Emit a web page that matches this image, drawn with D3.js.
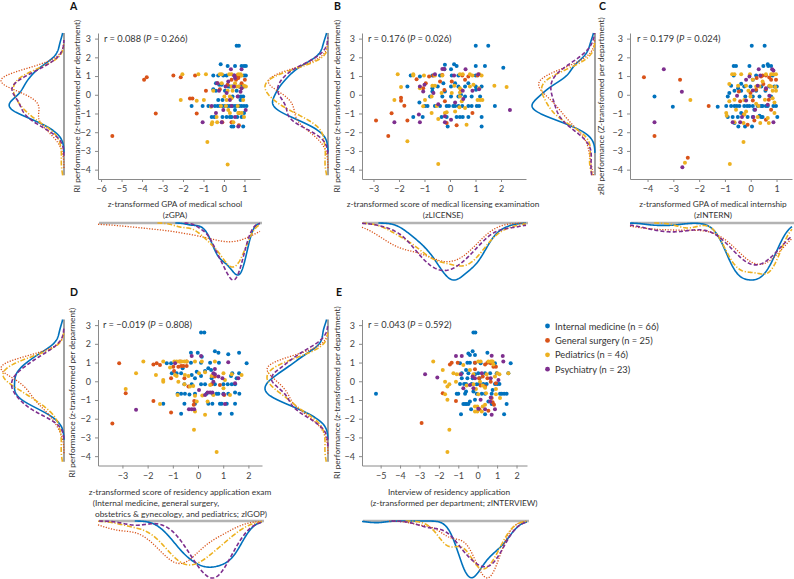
<!DOCTYPE html>
<html><head><meta charset="utf-8">
<script src="https://cdn.jsdelivr.net/npm/d3@7"></script>
<style>
body{margin:0;background:#fff}
svg{display:block}
text{font-family:Lato,"Open Sans",sans-serif}
</style>
</head><body>
<svg id="chart" width="794" height="579"></svg>
<script>
// ---------- categories / legend ----------
const groups = ["Internal medicine","General surgery","Pediatrics","Psychiatry"];
const groupN = [66,25,46,23];
const groupColors = ["#0072BD","#D95319","#EDB120","#7E2F8E"];
const densityDash = [null,"1.2,1.5","5,1.8,1.2,1.8","4,2.2"];
const yTicks = [-4,-3,-2,-1,0,1,2,3];

// ---------- panel A: zGPA ----------
const zGPA_IM = [[0.62,2.62],[0.73,2.62],[-0.16,1.63],[0.18,1.54],[0.54,1.54],[0.98,1.54],[1.07,1.54],[-0.28,1.03],[-0.03,1.03],[0.13,1.03],[0.5,1.03],[0.98,1.03],[1.07,1.03],[-0.39,0.62],[-0.23,0.53],[0.21,0.44],[0.75,0.44],[0.86,0.44],[0.98,0.44],[0.42,0.44],[-0.39,0.21],[-0.52,0.3],[0.42,-0.09],[0.83,-0.09],[0.94,-0.09],[-0.07,-0.28],[0.81,-0.28],[-1.58,-0.6],[-1.04,-0.6],[-0.44,-0.6],[-0.31,-0.6],[-0.2,-0.6],[-0.07,-0.6],[0.05,-0.6],[0.18,-0.6],[0.29,-0.6],[0.42,-0.6],[0.54,-0.6],[0.65,-0.6],[0.86,-0.6],[0.98,-0.6],[0.54,-0.82],[0.98,-0.98],[-0.6,-1.19],[-0.47,-1.19],[-0.07,-1.19],[0.29,-1.19],[0.37,-1.19],[0.86,-1.19],[0.65,-1.19],[0.37,-1.7],[0.46,-1.7],[0.94,-1.7],[0.7,1.03],[0.86,1.54],[-0.11,0.53],[0.62,0.21],[0.05,0.21],[0.75,-0.6],[-0.28,-0.28],[0.13,-1.19],[1.1,-0.6],[-0.76,-0.6],[0.29,0.44],[0.7,-0.09],[-0.52,1.03]];
const zGPA_GS = [[-5.45,-2.2],[-3.9,0.8],[-3.77,0.94],[-3.33,-1.0],[-2.47,1.03],[-2.11,0.94],[-1.66,-0.2],[-1.54,-0.2],[-1.41,1.03],[-1.33,-1.0],[-0.88,0.21],[0.62,1.03],[0.81,1.03],[0.37,0.8],[0.59,0.8],[0.7,0.89],[-0.2,0.3],[0.73,-0.98],[-0.08,-1.47],[0.37,-1.47],[0.73,-1.63],[0.18,0.53],[1.02,0.8],[-0.31,0.62],[0.86,0.62]];
const zGPA_PED = [[-2.03,1.1],[-2.11,-0.28],[-1.25,1.1],[-1.33,-0.32],[-0.98,-0.28],[-0.88,1.1],[-0.81,-2.52],[0.18,-3.72],[-0.6,-1.58],[-0.57,-1.47],[-0.63,-0.64],[-0.2,1.1],[-0.11,1.1],[0.26,1.1],[0.37,1.1],[0.7,1.1],[0.81,1.1],[0.37,0.44],[0.5,0.44],[0.62,0.44],[0.98,0.48],[1.07,0.44],[0.86,0.35],[0.73,0.44],[0.18,0.21],[0.42,0.21],[0.29,-0.09],[0.37,-0.18],[0.13,-0.28],[-0.15,-0.6],[0.1,-0.6],[0.67,-0.6],[0.29,-0.98],[0.7,-0.98],[0.86,-0.98],[-0.36,-1.19],[-0.33,-1.47],[0.86,1.03],[-0.11,0.62],[0.02,-0.09],[0.98,-1.19],[0.54,0.62],[0.21,-0.82],[-0.52,0.21],[0.94,-0.28],[0.46,-1.47]];
const zGPA_PSY = [[-1.04,-1.47],[0.34,1.37],[0.5,1.03],[0.54,0.89],[-0.33,0.62],[0.08,0.44],[0.49,0.44],[0.86,0.35],[-0.24,0.21],[0.29,-0.28],[1.06,-0.82],[0.54,-1.19],[-0.11,-1.47],[-0.6,-0.6],[0.81,0.16],[0.13,0.09],[0.67,-0.09],[-0.03,-0.82],[0.7,-1.7],[0.37,-0.6],[-0.39,-0.98],[0.86,1.37],[0.21,0.71]];

// ---------- panel B: zLICENSE ----------
const zLIC_IM = [[1.01,2.62],[1.5,2.62],[-0.2,1.6],[0.16,1.63],[0.26,1.54],[1.01,1.54],[1.37,1.54],[2.09,1.45],[-0.22,1.37],[0.04,1.37],[-1.54,1.03],[-1.18,0.97],[-0.69,1.03],[-0.39,1.03],[0.07,1.03],[0.33,1.03],[1.01,1.03],[-1.67,0.44],[-0.69,0.35],[-0.26,0.62],[0.04,0.44],[0.33,0.44],[0.59,0.44],[1.24,0.44],[1.01,0.44],[-1.2,-0.41],[-0.69,0.18],[-0.2,0.18],[-0.3,-0.09],[0.04,-0.09],[0.33,-0.09],[0.43,0],[0.85,-0.09],[-0.98,-0.6],[-0.88,-0.6],[-0.59,-0.6],[-0.13,-0.6],[-0.04,-0.6],[0.13,-0.6],[0.33,-0.6],[0.48,-0.6],[0.72,-0.6],[0.85,-0.6],[1.05,-0.6],[1.14,-0.6],[1.76,-0.6],[-1.44,-1.19],[-1.07,-1.19],[-0.33,-1.19],[-0.13,-1.19],[0.26,-1.19],[0.39,-1.19],[0.5,-1.19],[1.24,-1.19],[-0.09,-1.7],[1.24,-1.7],[1.02,0.27],[0.72,0.62],[-0.48,0.44],[0.2,0.62],[0.59,-0.09],[-0.39,-0.6],[0.2,-0.6],[0.72,-1.19],[-0.78,-0.09],[1.18,-0.09]];
const zLIC_GS = [[-2.9,-1.38],[-2.42,-2.2],[-2.29,-0.99],[-1.92,-0.16],[-1.92,-0.32],[-1.79,-0.59],[-1.67,-1.38],[-1.31,0.83],[-0.82,0.97],[-0.95,0.62],[-1.05,0.35],[-0.65,1.03],[-0.39,0.71],[-0.22,0.25],[-0.2,-0.35],[-0.3,1.06],[0.26,-1.63],[0.48,1.03],[0.59,0.8],[0.72,0.97],[0.88,-0.98],[1.08,1.03],[-0.13,-1.51],[0.43,0.27],[0.07,0.71]];
const zLIC_PED = [[-2.05,1.1],[-1.92,0.41],[-2.18,-0.28],[-1.67,-2.48],[-0.46,-3.7],[-1.44,1.1],[-1.44,1.03],[-1.02,1.03],[-0.69,0.48],[-0.59,0.48],[-0.72,-0.09],[-0.98,-0.28],[-1.05,-0.62],[-0.52,-0.6],[-0.72,-0.98],[-0.13,-0.94],[-0.46,-1.29],[-0.3,1.03],[0.39,1.1],[0.5,1.1],[0.78,1.1],[1.15,1.1],[1.24,1.03],[0.17,0.48],[0.39,0.35],[0.78,0.44],[1.14,0.35],[1.74,0.48],[2.22,0.41],[0.39,0.12],[0.39,-0.09],[1.08,-0.28],[1.18,-0.28],[1.27,-0.28],[0.37,-0.67],[0.59,-0.71],[0.65,-1.6],[-0.2,-0.98],[0.46,-0.35],[0.92,0.53],[0.07,0.09],[-0.33,0.09],[-1.18,0.35],[0.88,1.03],[0.2,-0.89],[-0.59,1.03]];
const zLIC_PSY = [[-2.18,-1.47],[-1.18,-1.47],[-1.22,-1.06],[-1.05,0.18],[-1.18,0.44],[-0.59,1.1],[-0.3,1.38],[-0.22,1.38],[-0.46,-0.51],[-0.2,-1.47],[-0.2,-1.15],[0.04,-1.33],[0.2,-0.41],[0.5,0.21],[0.52,-0.23],[0.88,0.21],[1.14,0.3],[0.61,1.37],[1.11,1.1],[2.35,-0.82],[0.16,1.03],[-0.65,0.09],[-1.0,0.53]];

// ---------- panel C: zINTERN ----------
const zINT_IM = [[-3.73,-0.09],[-3.02,-0.64],[-1.28,-0.64],[0.04,2.62],[0.54,2.62],[-0.66,1.54],[-0.57,1.54],[-0.05,1.54],[0.66,1.63],[0.68,1.54],[-0.66,1.03],[0.21,1.03],[0.85,1.03],[-0.37,0.59],[-0.76,0.48],[-0.49,0.35],[-0.01,0.44],[0.41,0.44],[0.92,0.44],[1.01,0.44],[-0.89,-0.09],[-0.63,0.21],[-0.37,0.21],[-0.21,-0.09],[0.08,-0.09],[0.34,-0.09],[0.57,0.21],[-0.95,-0.6],[-0.76,-0.6],[-0.54,-0.6],[-0.44,-0.6],[-0.25,-0.6],[-0.14,-0.6],[-0.05,-0.6],[0.08,-0.6],[0.27,-0.6],[0.4,-0.6],[0.59,-0.6],[0.88,-0.6],[0.98,-0.6],[-0.89,-1.19],[-0.5,-1.19],[-0.12,-1.19],[0.4,-1.19],[0.46,-1.19],[1.03,-1.19],[-0.48,-1.7],[-0.22,-1.7],[0.05,-1.7],[-0.63,-1.51],[0.34,-1.12],[0.14,-0.8],[0.49,1.54],[0.79,1.54],[0.08,0.8],[-0.25,0.44],[0.72,0.44],[-0.83,0.09],[0.21,0.21],[0.79,-0.09],[-0.63,-0.6],[0.46,-0.6],[-0.7,-1.19],[0.08,-1.19],[0.66,-0.6],[-0.37,-0.98]];
const zINT_GS = [[-4.14,0.94],[-3.73,-2.2],[-2.74,0.8],[-1.63,-0.6],[-2.44,-3.37],[0.23,0.89],[0.4,0.97],[0.46,1.03],[0.59,1.03],[0.79,0.8],[0.72,0.92],[-0.46,0.18],[-0.01,0.09],[0.59,0.3],[0.21,0.27],[-0.41,-0.35],[0.08,-0.3],[0.7,-0.27],[0.14,-1.37],[0.59,-1.33],[-0.12,-1.6],[0.79,-0.8],[-0.27,-1.06],[0.49,0.57],[0.98,0.8]];
const zINT_PED = [[-2.34,-0.28],[-2.55,-3.63],[-0.81,-3.7],[-0.28,-2.52],[-0.72,1.1],[-0.63,1.1],[-0.37,1.1],[-0.03,1.1],[0.59,1.1],[0.79,1.1],[0.88,1.1],[0.98,1.1],[-0.49,0.48],[-0.18,0.48],[0.34,0.44],[0.72,0.48],[0.95,0.41],[-0.63,-0.27],[-0.25,-0.28],[-0.83,-0.35],[-0.01,-0.09],[0.85,-0.18],[0.92,-0.41],[-0.95,-0.98],[-0.93,-1.12],[-0.25,-1.06],[0.27,-1.19],[0.37,-1.51],[0.66,-1.24],[0.92,-0.98],[-0.57,-0.8],[0.85,0.21],[0.46,0.71],[-0.63,-1.47],[0.08,0.8],[-0.09,0.21],[0.98,0.21],[0.21,-0.48],[-0.28,-1.51],[0.55,-0.27],[-0.83,0.57],[0.21,0.44],[0.79,0.44],[0.7,-1.51],[-0.18,-0.89],[0.3,-0.6]];
const zINT_PSY = [[-3.37,1.37],[-3.73,-1.47],[-2.67,0.16],[-2.65,-3.87],[0.31,1.37],[0.83,1.37],[0.88,1.3],[-0.05,0.97],[0.37,1.03],[-0.53,-0.05],[0.08,0.23],[0.59,0.35],[0.66,-0.53],[-0.18,-0.3],[0.17,-0.8],[-0.7,-1.47],[-0.41,-1.47],[-0.34,-1.19],[0.1,-1.19],[0.88,-1.47],[0.72,-0.05],[0.27,0.48],[-0.18,0.8]];

// ---------- panel D: zIGOP ----------
const zIGOP_IM = [[0.12,2.61],[0.25,2.61],[-0.28,1.52],[-0.01,1.52],[0.67,1.61],[0.81,1.52],[1.2,1.44],[1.63,1.52],[-1.24,0.96],[-1.07,0.96],[-0.28,0.99],[0.12,0.99],[0.48,0.99],[0.83,0.99],[1.93,0.96],[-0.85,0.43],[-0.67,0.43],[-0.05,0.51],[0.12,0.28],[0.28,0.55],[0.52,0.6],[1.36,0.43],[1.63,0.43],[-0.54,-0.16],[-0.25,-0.16],[0.12,-0.16],[0.28,-0.16],[0.67,-0.16],[1.01,-0.16],[1.18,-0.16],[1.34,-0.16],[1.47,-0.16],[-0.81,-0.67],[-0.67,-0.67],[-0.12,-0.67],[0.34,-0.67],[0.58,-0.67],[0.81,-0.67],[1.01,-0.67],[1.2,-0.67],[1.47,-0.6],[1.64,-0.67],[-0.34,-0.71],[-1.38,-1.2],[-0.54,-1.2],[0.41,-1.2],[0.57,-1.2],[0.87,-1.2],[0.94,-1.2],[1.47,-1.2],[-0.67,-1.74],[0.87,-1.74],[1.34,-1.74],[0.15,1.31],[-0.25,0.34],[1.53,0.16],[-1.04,0.43],[0.54,0.16],[-0.12,0.16],[-0.52,-0.67],[0.74,-0.67],[-0.12,-1.2],[1.14,-1.2],[1.31,0.28],[-0.61,0.69],[0.41,0.69]];
const zIGOP_GS = [[-3.4,-2.25],[-3.13,0.96],[-2.87,-0.64],[-1.77,-1.05],[-1.77,0.9],[-1.64,0.96],[-1.51,0.87],[-1.07,-1.67],[-1.07,0.16],[-0.98,0.78],[-0.95,0.55],[-0.78,0.78],[-0.67,0.82],[-0.58,0.82],[-0.45,0.82],[-0.54,0.16],[-0.71,1.05],[-0.45,1.05],[-0.15,-1.05],[-0.17,-1.26],[0.54,-0.16],[0.87,-0.2],[1.04,-0.73],[0.67,0.25],[-0.38,-0.28]];
const zIGOP_PED = [[-2.87,-0.41],[-2.46,0.43],[-2.17,1.05],[-1.67,0.34],[-1.38,0.07],[-1.38,-0.02],[-1.38,1.05],[-0.94,1.05],[-0.85,1.05],[-0.75,1.05],[-0.65,1.05],[-0.54,1.05],[-0.45,1.05],[-0.78,-0.02],[-0.85,0.28],[-0.81,-0.73],[-0.54,-0.16],[-0.32,-0.28],[-0.19,-0.25],[-0.12,-0.78],[-0.16,-2.59],[0.74,-3.78],[0.04,0.43],[0.28,0.48],[0.67,1.05],[1.01,0.43],[1.34,0.37],[1.73,0.34],[1.01,-0.37],[-0.05,-1.08],[0.38,-1.08],[0.17,-0.76],[0.61,-0.73],[1.27,-0.73],[-0.12,1.05],[0.15,1.05],[0.54,0.28],[-0.91,0.34],[1.07,0.07],[-0.52,0.34],[-0.12,-1.61],[0.28,-1.79],[-1.11,0.73],[-0.38,0.28],[0.48,-0.2],[-1.51,-1.22]];
const zIGOP_PSY = [[-2.46,-1.52],[-0.36,-1.49],[-0.25,-1.49],[-0.15,-1.49],[-0.25,1.35],[0.12,1.35],[1.2,1.01],[0.61,0.43],[0.67,0.37],[0.81,0.25],[0.97,0.16],[1.6,0.16],[1.47,-0.11],[0.38,-0.6],[0.48,-0.6],[0.57,-0.6],[1.07,-1.22],[0.04,-0.46],[0.67,0.66],[0.28,-0.73],[1.01,-0.69],[-0.91,0.96],[0.61,-0.02]];

// ---------- panel E: zINTERVIEW ----------
const zINTV_IM = [[-5.24,-0.67],[-0.22,2.61],[-0.12,2.61],[-0.48,1.49],[-0.26,1.61],[-0.14,1.4],[0.5,1.52],[-0.14,0.99],[-0.53,0.99],[-0.4,0.99],[0.89,0.96],[1.7,0.96],[-0.6,0.6],[-0.48,0.43],[-0.82,0.16],[-0.26,0.16],[-0.14,0.37],[0.64,0.43],[1.58,0.43],[-0.7,-0.14],[-0.6,-0.14],[-0.31,-0.14],[0.09,-0.14],[0.29,-0.14],[0.89,-0.14],[1.01,-0.14],[1.12,-0.14],[-1.08,-0.67],[-1.0,-0.67],[-0.6,-0.55],[-0.22,-0.55],[0.38,-0.67],[0.72,-0.67],[1.15,-0.67],[1.24,-0.67],[1.36,-0.67],[1.49,-0.67],[-0.74,-1.22],[-0.65,-1.22],[-0.57,-1.22],[-0.48,-1.22],[-0.86,-1.76],[0.38,-1.76],[1.36,-1.76],[-0.05,-0.16],[-0.82,0.43],[0.03,0.43],[-0.4,-1.08],[0.55,-1.08],[-0.91,0.96],[0.38,0.43],[0.77,-0.46],[-0.65,-0.67],[0.15,0.96],[-0.14,-0.99],[0.09,0.16],[0.46,-0.14],[0.98,0.43],[-0.91,-0.14],[-0.53,0.16],[0.21,-0.67],[-0.4,1.4],[1.49,-1.22],[-0.34,-1.49],[-0.05,-0.67],[0.72,-1.22]];
const zINTV_GS = [[-2.89,-2.23],[-1.8,-0.64],[-1.43,0.9],[-1.34,0.99],[-1.03,0.99],[-1.12,-1.05],[-0.14,0.99],[0.07,0.16],[0.15,-0.23],[0.38,0.9],[0.5,0.99],[0.5,0.16],[0.67,0.96],[0.81,0.78],[0.94,0.78],[0.67,-0.02],[0.72,-0.9],[0.77,-1.12],[0.55,-1.58],[0.09,-1.49],[0.84,-1.26],[-0.14,0.64],[0.26,0.25],[0.94,-0.11],[0.38,-0.28]];
const zINTV_PED = [[-2.29,1.05],[-1.8,0.6],[-1.68,-0.02],[-1.56,-0.28],[-1.46,-0.16],[-1.68,-0.69],[-1.56,-0.99],[-1.46,-2.59],[-1.56,-3.78],[-1.25,0.43],[-1.08,0.37],[0.03,1.05],[0.15,1.05],[0.55,1.05],[0.67,1.05],[0.77,1.05],[1.01,0.43],[1.12,0.37],[1.58,0.43],[-0.22,-0.16],[0.26,-0.23],[0.38,-0.34],[0.94,-0.41],[0.03,-0.69],[0.43,-0.64],[-0.14,-1.35],[-0.02,-1.35],[-0.14,-1.61],[-0.02,-1.61],[0.26,-1.35],[-0.91,0.37],[-0.4,0.6],[0.46,0.37],[0.89,0.25],[0.12,-0.02],[-0.57,-0.23],[0.72,1.05],[-1.12,-0.02],[-0.09,-0.41],[1.15,-0.9],[-0.22,0.37],[0.94,-0.69],[0.21,-1.61],[-0.74,0.87],[0.81,0.9],[0.38,-1.26]];
const zINTV_PSY = [[-2.71,0.37],[-2.08,0.2],[-1.12,1.35],[-0.82,1.35],[0.72,1.37],[1.29,1.35],[1.32,1.05],[-0.86,0.37],[-0.26,0.25],[-0.14,0.16],[-0.74,-0.37],[-0.22,-0.37],[0.67,0.16],[0.67,-0.87],[0.64,-1.08],[0.38,-1.49],[0.03,-1.47],[0.89,-1.49],[0.72,-1.79],[0.15,-0.99],[0.21,0.43],[1.07,0.07],[-0.4,-0.2]];

// ---------- text ----------
const rLabels = [["r = 0.088 (","P"," = 0.266)"],["r = 0.176 (","P"," = 0.026)"],["r = 0.179 (","P"," = 0.024)"],["r = \u22120.019 (","P"," = 0.808)"],["r = 0.043 (","P"," = 0.592)"]];
const xTitles = [
  ["z-transformed GPA of medical school","(zGPA)"],
  ["z-transformed score of medical licensing examination","(zLICENSE)"],
  ["z-transformed GPA of medical internship","(zINTERN)"],
  ["z-transformed score of residency application exam","(Internal medicine, general surgery,","obstetrics & gynecology, and pediatrics; zIGOP)"],
  ["Interview of residency application","(z-transformed per department; zINTERVIEW)"]
];
const yTitles = ["RI performance (z-transformed per department)","RI performance (z-transformed per department)","zRI performance (Z-transformed per department)","RI performance (z-transformed per deparment)","RI performance (z-transformed per department)"];
const xTickSets = [[-6,-5,-4,-3,-2,-1,0,1],[-3,-2,-1,0,1,2],[-4,-3,-2,-1,0,1],[-3,-2,-1,0,1,2],[-5,-4,-3,-2,-1,0,1,2]];
const panelLetters = ["A","B","C","D","E"];

// ---------- layout ----------
const rows = [
  {top:33, axisY:179, baseY:223, rY:42, letterY:10, titleY:207},
  {top:319.5, axisY:465.5, baseY:521, rY:328, letterY:296, titleY:495}
];
const yDomain = [-4.5, 3.3];
const panels = [
  {data:[zGPA_IM,zGPA_GS,zGPA_PED,zGPA_PSY], row:0, axisX:98, xEnd:260, xDom:[-6.15,1.76], leftX:64, yTitleX:77, xTitleX:[175,175], rX:104, letterX:70},
  {data:[zLIC_IM,zLIC_GS,zLIC_PED,zLIC_PSY], row:0, axisX:362, xEnd:526, xDom:[-3.45,2.98], leftX:328, yTitleX:337, xTitleX:[443,443], rX:368, letterX:334},
  {data:[zINT_IM,zINT_GS,zINT_PED,zINT_PSY], row:0, axisX:630, xEnd:792, xDom:[-4.68,1.6], leftX:595, yTitleX:601, xTitleX:[713,713], rX:637, letterX:599},
  {data:[zIGOP_IM,zIGOP_GS,zIGOP_PED,zIGOP_PSY], row:1, axisX:98, xEnd:262, xDom:[-3.97,2.54], leftX:64, yTitleX:72, xTitleX:[180,156,181], rX:103, letterX:70},
  {data:[zINTV_IM,zINTV_GS,zINTV_PED,zINTV_PSY], row:1, axisX:362, xEnd:527, xDom:[-5.96,2.54], leftX:328, yTitleX:337, xTitleX:[449,454], rX:368, letterX:336}
];

const svg = d3.select("#chart");
const FONT = "Lato, 'Open Sans', sans-serif";

function bandwidth(v){
  const sig = d3.deviation(v) || 1;
  return sig * Math.pow(4 / (3 * v.length), 0.2);
}
function kde(v, lo, hi){
  const h = bandwidth(v);
  const a = Math.max(lo, d3.min(v) - 3*h), b = Math.min(hi, d3.max(v) + 3*h);
  const n = 160;
  return d3.range(n+1).map(i => {
    const t = a + (b - a) * i / n;
    const d = d3.mean(v, s => Math.exp(-0.5 * ((t - s)/h)**2)) / (h * Math.sqrt(2*Math.PI));
    return [t, d];
  });
}

panels.forEach((p, pi) => {
  const R = rows[p.row];
  const g = svg.append("g");
  const x = d3.scaleLinear().domain(p.xDom).range([p.axisX, p.xEnd]);
  const y = d3.scaleLinear().domain(yDomain).range([R.axisY, R.top]);

  // ----- bottom density (marginal of x) -----
  const xd = p.data.map(arr => kde(arr.map(d => d[0]), p.xDom[0], p.xDom[1]));
  const xMax = d3.max(xd.flat(), d => d[1]);
  const dScaleB = d3.scaleLinear().domain([0, xMax]).range([R.baseY, R.baseY + 57]);
  g.append("line").attr("x1", p.axisX + 1).attr("x2", p.xEnd + 2)
    .attr("y1", R.baseY).attr("y2", R.baseY).attr("stroke", "#b3b3b3").attr("stroke-width", 2.6);
  xd.forEach((c, i) => {
    g.append("path").datum(c)
      .attr("d", d3.line().x(d => x(d[0])).y(d => dScaleB(d[1])))
      .attr("fill", "none").attr("stroke", groupColors[i]).attr("stroke-width", i === 1 ? 1.3 : 1.6)
      .attr("stroke-dasharray", densityDash[i]);
  });

  // ----- left density (marginal of y) -----
  const yLo = -4.3, yHi = 3.3;
  const yd = p.data.map(arr => kde(arr.map(d => d[1]), yLo, yHi));
  const yMax = d3.max(yd.flat(), d => d[1]);
  const dScaleL = d3.scaleLinear().domain([0, yMax]).range([p.leftX, p.leftX - 63]);
  g.append("line").attr("x1", p.leftX).attr("x2", p.leftX)
    .attr("y1", y(yHi)).attr("y2", y(yLo)).attr("stroke", "#555").attr("stroke-width", 1.1);
  yd.forEach((c, i) => {
    g.append("path").datum(c)
      .attr("d", d3.line().x(d => dScaleL(d[1])).y(d => y(d[0])))
      .attr("fill", "none").attr("stroke", groupColors[i]).attr("stroke-width", i === 1 ? 1.3 : 1.6)
      .attr("stroke-dasharray", densityDash[i]);
  });

  // ----- axes -----
  const fmt = d3.format("d");
  const ax = g.append("g").attr("transform", `translate(0,${R.axisY})`)
    .call(d3.axisBottom(x).tickValues(xTickSets[pi]).tickFormat(fmt).tickSize(3).tickSizeOuter(0).tickPadding(4));
  const ay = g.append("g").attr("transform", `translate(${p.axisX},0)`)
    .call(d3.axisLeft(y).tickValues(yTicks).tickFormat(fmt).tickSize(3).tickSizeOuter(0).tickPadding(4));
  [ax, ay].forEach(a => {
    a.attr("font-family", FONT).attr("font-size", 9);
    a.select(".domain").attr("stroke", "#8a8a8a");
    a.selectAll(".tick line").attr("stroke", "#8a8a8a");
    a.selectAll(".tick text").attr("fill", "#444");
  });

  // ----- points -----
  p.data.forEach((arr, i) => {
    g.append("g").selectAll("circle").data(arr).join("circle")
      .attr("cx", d => x(d[0])).attr("cy", d => y(d[1])).attr("r", 2)
      .attr("fill", groupColors[i]);
  });

  // ----- texts -----
  const rt = g.append("text").attr("x", p.rX).attr("y", R.rY).attr("font-size", 9.3).attr("fill", "#333");
  rt.append("tspan").text(rLabels[pi][0]);
  rt.append("tspan").attr("font-style", "italic").text(rLabels[pi][1]);
  rt.append("tspan").text(rLabels[pi][2]);

  g.append("text").attr("x", p.letterX).attr("y", R.letterY).attr("font-size", 10.5)
    .attr("font-weight", "bold").attr("fill", "#111").text(panelLetters[pi]);

  xTitles[pi].forEach((line, li) => {
    g.append("text").attr("x", p.xTitleX[li]).attr("y", R.titleY + li * 10.8)
      .attr("text-anchor", "middle").attr("font-size", 8.3).attr("fill", "#333").text(line);
  });

  const yc = (y(yHi) + y(yLo)) / 2 + 2;
  g.append("text").attr("transform", `translate(${p.yTitleX},${yc}) rotate(-90)`)
    .attr("text-anchor", "middle").attr("dominant-baseline", "central")
    .attr("font-size", 8.3).attr("fill", "#333").text(yTitles[pi]);
});

// ---------- legend ----------
const lg = svg.append("g");
groups.forEach((gname, i) => {
  const yy = 326 + i * 14.4;
  lg.append("circle").attr("cx", 547.5).attr("cy", yy).attr("r", 2.4).attr("fill", groupColors[i]);
  lg.append("text").attr("x", 555).attr("y", yy).attr("dominant-baseline", "central")
    .attr("font-size", 9.3).attr("fill", "#333").text(`${gname} (n = ${groupN[i]})`);
});
</script>
</body></html>
